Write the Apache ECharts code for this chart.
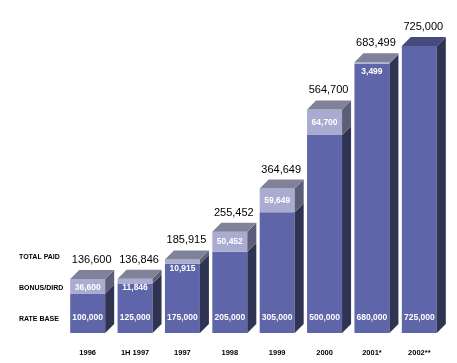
<!DOCTYPE html>
<html>
<head>
<meta charset="utf-8">
<script src="https://cdn.jsdelivr.net/npm/echarts@6/dist/echarts.min.js"></script>
<style>html,body{margin:0;padding:0;background:#fff}#c{width:457px;height:363px}</style>
</head>
<body>
<div id="c"></div>
<script>
const categories = ['1996', '1H 1997', '1997', '1998', '1999', '2000', '2001*', '2002**'];
const rateBase = [100000, 125000, 175000, 205000, 305000, 500000, 680000, 725000];
const bonus = [36600, 11846, 10915, 50452, 59649, 64700, 3499, 0];
const totalPaid = [136600, 136846, 185915, 255452, 364649, 564700, 683499, 725000];
const rowLabels = ['TOTAL PAID', 'BONUS/DIRD', 'RATE BASE'];

const fmt = v => v.toLocaleString('en-US');
const C = {
  baseFront: '#5f65a9', bonusFront: '#a9abd1',
  baseSide: '#303452', bonusSide: '#5c5e77',
  topBonus: '#808299', topBase: '#464a7d'
};
const dx = 9, dy = 9, bw = 35;

const chart = echarts.init(document.getElementById('c'));
chart.setOption({
  animation: false,
  grid: { left: 64, right: 14, top: 36, bottom: 30 },
  xAxis: {
    type: 'category', data: categories,
    axisLine: { show: false }, axisTick: { show: false },
    axisLabel: { fontSize: 7.5, fontWeight: 'bold', color: '#000', margin: 16, fontFamily: 'Liberation Sans' }
  },
  yAxis: { type: 'value', min: 0, max: 750000, show: false, splitLine: { show: false } },
  graphic: rowLabels.map((t, i) => ({
    type: 'text', left: 19, top: [254, 285, 316][i],
    style: { text: t, fontSize: 7, fontWeight: 'bold', fill: '#000', fontFamily: 'Liberation Sans' }
  })),
  series: [{
    type: 'custom',
    data: categories.map((c, i) => [i, rateBase[i], bonus[i], totalPaid[i]]),
    encode: { x: 0, y: [1, 2] },
    renderItem: function (params, api) {
      const i = api.value(0), b = api.value(1), bo = api.value(2), tot = api.value(3);
      const p0 = api.coord([i, 0]), pb = api.coord([i, b]), pt = api.coord([i, b + bo]);
      const x0 = p0[0] - bw / 2, x1 = x0 + bw;
      const ch = [];
      ch.push({ type: 'rect', shape: { x: x0, y: pb[1], width: bw, height: p0[1] - pb[1] }, style: { fill: C.baseFront } });
      ch.push({ type: 'polygon', shape: { points: [[x1, pb[1]], [x1 + dx, pb[1] - dy], [x1 + dx, p0[1] - dy], [x1, p0[1]]] }, style: { fill: C.baseSide } });
      if (bo > 0) {
        ch.push({ type: 'rect', shape: { x: x0, y: pt[1], width: bw, height: pb[1] - pt[1] }, style: { fill: C.bonusFront } });
        ch.push({ type: 'polygon', shape: { points: [[x1, pt[1]], [x1 + dx, pt[1] - dy], [x1 + dx, pb[1] - dy], [x1, pb[1]]] }, style: { fill: C.bonusSide } });
      }
      ch.push({ type: 'polygon', shape: { points: [[x0, pt[1]], [x0 + dx, pt[1] - dy], [x1 + dx, pt[1] - dy], [x1, pt[1]]] }, style: { fill: bo > 0 ? C.topBonus : C.topBase } });
      ch.push({ type: 'text', style: { text: fmt(tot), x: p0[0] + 4, y: pt[1] - 19, align: 'center', verticalAlign: 'middle', fontSize: 11, fill: '#000', fontFamily: 'Liberation Sans' } });
      if (bo > 0) {
        const yb = Math.max((pt[1] + pb[1]) / 2, pt[1] + 9);
        ch.push({ type: 'text', style: { text: fmt(bo), x: p0[0], y: yb, align: 'center', verticalAlign: 'middle', fontSize: 8.5, fontWeight: 'bold', fill: '#fff', fontFamily: 'Liberation Sans' } });
      }
      ch.push({ type: 'text', style: { text: fmt(b), x: p0[0], y: p0[1] - 15, align: 'center', verticalAlign: 'middle', fontSize: 8.5, fontWeight: 'bold', fill: '#fff', fontFamily: 'Liberation Sans' } });
      return { type: 'group', children: ch };
    }
  }]
});
</script>
</body>
</html>
